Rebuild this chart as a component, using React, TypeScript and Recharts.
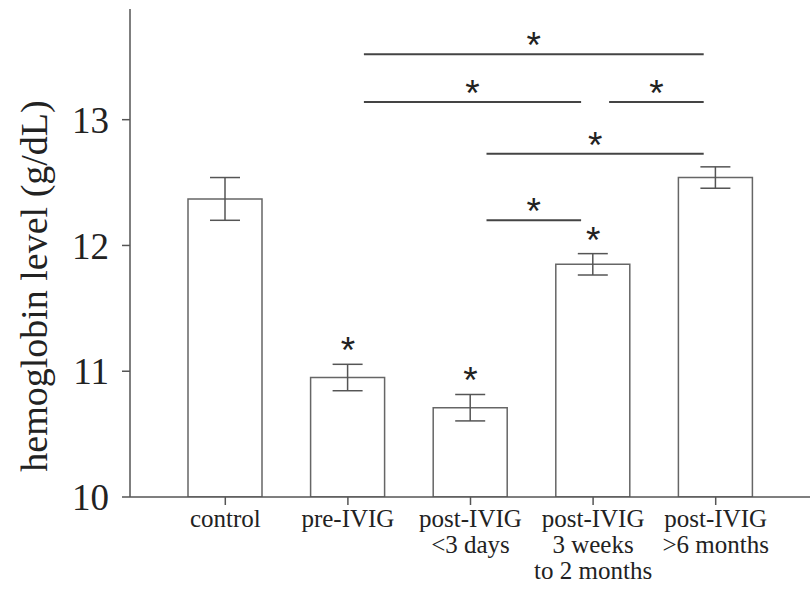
import {
  BarChart,
  Bar,
  XAxis,
  YAxis,
  ErrorBar,
  ReferenceLine,
  ReferenceDot,
} from 'recharts';

const groups = [
  'control',
  'pre-IVIG',
  'post-IVIG\n<3 days',
  'post-IVIG\n3 weeks\nto 2 months',
  'post-IVIG\n>6 months',
];
const means = [12.37, 10.95, 10.71, 11.85, 12.54];
const errors = [0.17, 0.105, 0.105, 0.085, 0.085];
const starred = [false, true, true, true, false];

// pairwise comparisons: [from group, to group, bracket level]
const brackets: [number, number, number][] = [
  [1, 4, 13.52],
  [1, 3, 13.14],
  [3, 4, 13.14],
  [2, 4, 12.73],
  [2, 3, 12.2],
];

const yTicks = [10, 11, 12, 13];

const data = groups.map((g, i) => ({ group: g, mean: means[i], err: errors[i] }));

const SERIF = '"Liberation Serif", "Times New Roman", serif';
const SANS = '"Liberation Sans", Arial, sans-serif';
const INK = '#555';

function GroupTick(props: any) {
  const { x, y, payload } = props;
  const lines = String(payload.value).split('\n');
  return (
    <text x={x} y={y} textAnchor="middle" fontFamily={SERIF} fontSize={25} fill="#222">
      {lines.map((l, i) => (
        <tspan key={i} x={x} dy={i === 0 ? 20 : 26}>
          {l}
        </tspan>
      ))}
    </text>
  );
}

function Bracket(props: any) {
  const { x1, x2, y1 } = props;
  const a = x1 + 16;
  const b = x2 - 12;
  return (
    <g>
      <line x1={a} x2={b} y1={y1} y2={y1} stroke="#444" strokeWidth={2} />
      <text x={(a + b) / 2} y={y1 + 4} textAnchor="middle" fontFamily={SANS} fontSize={37} fill="#222">
        *
      </text>
    </g>
  );
}

function Star(props: any) {
  const { cx, cy } = props;
  return (
    <text x={cx} y={cy - 1} textAnchor="middle" fontFamily={SANS} fontSize={37} fill="#222">
      *
    </text>
  );
}

function YTitle() {
  return (
    <text
      transform="rotate(-90 35 286)"
      x={35}
      y={286}
      dy={12}
      textAnchor="middle"
      fontFamily={SERIF}
      fontSize={38}
      fill="#222"
    >
      hemoglobin level (g/dL)
    </text>
  );
}

export default function App() {
  return (
    <div style={{ position: 'absolute', left: 0, top: 0, background: '#fff' }}>
      <BarChart
        width={810}
        height={590}
        data={data}
        margin={{ top: 9, right: 0, bottom: 0, left: 0 }}
      >
        <XAxis
          dataKey="group"
          interval={0}
          padding={{ left: 34, right: 33 }}
          tick={<GroupTick />}
          tickSize={8}
          stroke={INK}
          strokeWidth={1.5}
          height={93}
        />
        <XAxis
          xAxisId="top"
          orientation="top"
          dataKey="group"
          height={0}
          tick={false}
          tickLine={false}
          stroke={INK}
          strokeWidth={1.5}
        />
        <YAxis
          width={130}
          domain={[10, 13.88]}
          ticks={yTicks}
          allowDataOverflow
          tickSize={8}
          tickMargin={13}
          stroke={INK}
          strokeWidth={1.5}
          tick={{ fontFamily: SERIF, fontSize: 37, fill: '#222' }}
          label={<YTitle />}
        />
        <Bar
          dataKey="mean"
          barSize={74}
          fill="#fff"
          stroke="#666"
          strokeWidth={1.5}
          isAnimationActive={false}
        >
          <ErrorBar dataKey="err" width={15} stroke={INK} strokeWidth={1.5} />
        </Bar>
        {brackets.map(([from, to, level], i) => (
          <ReferenceLine
            key={'b' + i}
            segment={[
              { x: groups[from], y: level },
              { x: groups[to], y: level },
            ]}
            shape={<Bracket />}
          />
        ))}
        {data.map((d, i) =>
          starred[i] ? (
            <ReferenceDot
              key={'s' + i}
              x={d.group}
              y={d.mean + d.err}
              r={0}
              shape={<Star />}
            />
          ) : null
        )}
      </BarChart>
    </div>
  );
}
